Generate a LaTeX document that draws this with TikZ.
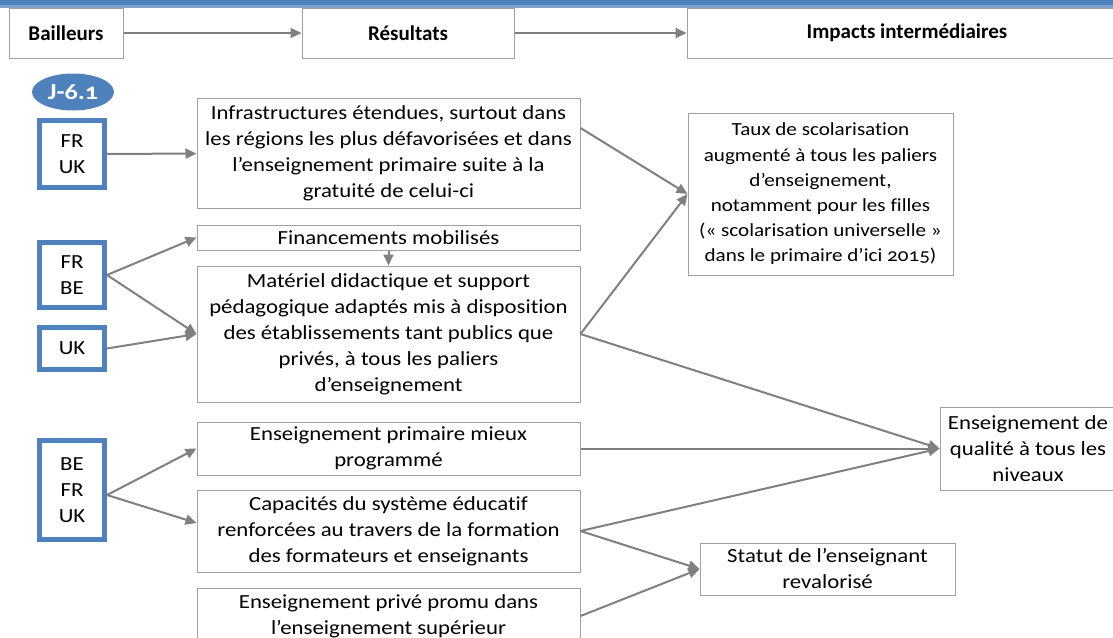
\documentclass[tikz,border=0pt]{standalone}
\usepackage{fontspec}
\setmainfont{Carlito}[Numbers=OldStyle]
\newfontfamily\boxfont{Carlito}[Numbers=OldStyle, FakeStretch=1.14, Ligatures=NoCommon]
\usetikzlibrary{arrows.meta,shapes.geometric}
\definecolor{officeblue}{HTML}{4F81BD}
\definecolor{bandlight}{HTML}{7FA2CD}
\definecolor{framegray}{HTML}{A0A0A0}
\definecolor{linkgray}{HTML}{808080}

\begin{document}
\begin{tikzpicture}[x=1pt,y=-1pt,
  res/.style={draw=framegray, line width=1pt, fill=white, align=center,
    inner sep=0pt, font=\boxfont\fontsize{20}{26}\selectfont},
  headbox/.style={draw=framegray, line width=1pt, fill=white, align=center,
    inner sep=0pt, font=\fontsize{21}{26}\selectfont\bfseries},
  donor/.style={draw=officeblue, line width=5pt, fill=white, align=center,
    inner sep=0pt, minimum width=65pt, font=\boxfont\fontsize{20}{26}\selectfont},
  tag/.style={ellipse, fill=officeblue, text=white, inner sep=0pt,
    minimum width=82pt, minimum height=37pt, font=\boxfont\fontsize{23}{24}\selectfont\bfseries},
  link/.style={draw=linkgray, line width=2pt,
    -{Triangle[length=11pt,width=10pt]}},
]
\clip (0,0) rectangle (1113,637);
\fill[white] (0,0) rectangle (1113,637);

% title band
\fill[officeblue] (0,0) rectangle (1113,5);
\fill[bandlight] (0,5) rectangle (1113,8);

% column headers
\node[headbox, minimum width=114pt, minimum height=50pt] (hbail) at (66,33) {Bailleurs};
\node[headbox, minimum width=212pt, minimum height=50pt] (hres) at (408,33) {Résultats};
\node[headbox, minimum width=440pt, minimum height=50pt] (himp) at (907,33) {Impacts intermédiaires};
\draw[link] (hbail) -- (hres);
\draw[link] (hres) -- (himp);

% tag
\node[tag] (tag) at (73,92) {J-6.1};

% donors
\node[donor, minimum height=67pt] (d1) at (72,154) {FR\\UK};
\node[donor, minimum height=65pt] (d2) at (72,275) {FR\\BE};
\node[donor, minimum height=42pt] (d3) at (72,348.5) {UK};
\node[donor, minimum height=99pt] (d4) at (72,490) {BE\\FR\\UK};

% results
\node[res, minimum width=383pt, minimum height=110pt] (infra) at (388.5,153)
  {Infrastructures étendues, surtout dans\\les régions les plus défavorisées et dans\\l’enseignement primaire suite à la\\gratuité de celui-ci};
\node[res, minimum width=383pt, minimum height=25pt] (fin) at (388.5,237.5)
  {Financements mobilisés};
\node[res, minimum width=383pt, minimum height=136pt] (mat) at (388.5,334)
  {Matériel didactique et support\\pédagogique adaptés mis à disposition\\des établissements tant publics que\\privés, à tous les paliers\\d’enseignement};
\node[res, minimum width=383pt, minimum height=53pt] (eprim) at (388.5,448.5)
  {Enseignement primaire mieux\\programmé};
\node[res, minimum width=383pt, minimum height=82pt] (capa) at (388.5,531)
  {Capacités du système éducatif\\renforcées au travers de la formation\\des formateurs et enseignants};
\node[res, minimum width=383pt, minimum height=56pt] (priv) at (388.5,616)
  {Enseignement privé promu dans\\l’enseignement supérieur};

% impacts
\node[res, minimum width=265pt, minimum height=162pt,
  font=\boxfont\fontsize{18.5}{25.2}\selectfont] (taux) at (820.5,194)
  {Taux de scolarisation\\augmenté à tous les paliers\\d’enseignement,\\notamment pour les filles\\(« scolarisation universelle »\\dans le primaire d’ici 2015)};
\node[res, minimum width=176pt, minimum height=83pt] (qual) at (1028,448.5)
  {Enseignement de\\qualité à tous les\\niveaux};
\node[res, minimum width=255pt, minimum height=52pt] (stat) at (827.5,569)
  {Statut de l’enseignant\\revalorisé};

% donor links
\draw[link] (d1) -- (infra);
\draw[link] (d2.east) -- (fin.west);
\draw[link] (d2.east) -- (mat.west);
\draw[link] (d3.east) -- (mat.west);
\draw[link] ([yshift=-5pt]d4.east) -- (eprim.west);
\draw[link] ([yshift=-5pt]d4.east) -- ([yshift=8pt]capa.west);

% result links
\draw[link] (fin) -- (mat);
\draw[link] ([yshift=25pt]infra.east) -- (taux.west);
\draw[link] (mat.east) -- (taux.west);
\draw[link] (mat.east) -- (qual.west);
\draw[link] (eprim.east) -- (qual.west);
\draw[link] (capa.east) -- (qual.west);
\draw[link] (capa.east) -- (stat.west);
\draw[link] (priv.east) -- (stat.west);
\end{tikzpicture}
\end{document}
